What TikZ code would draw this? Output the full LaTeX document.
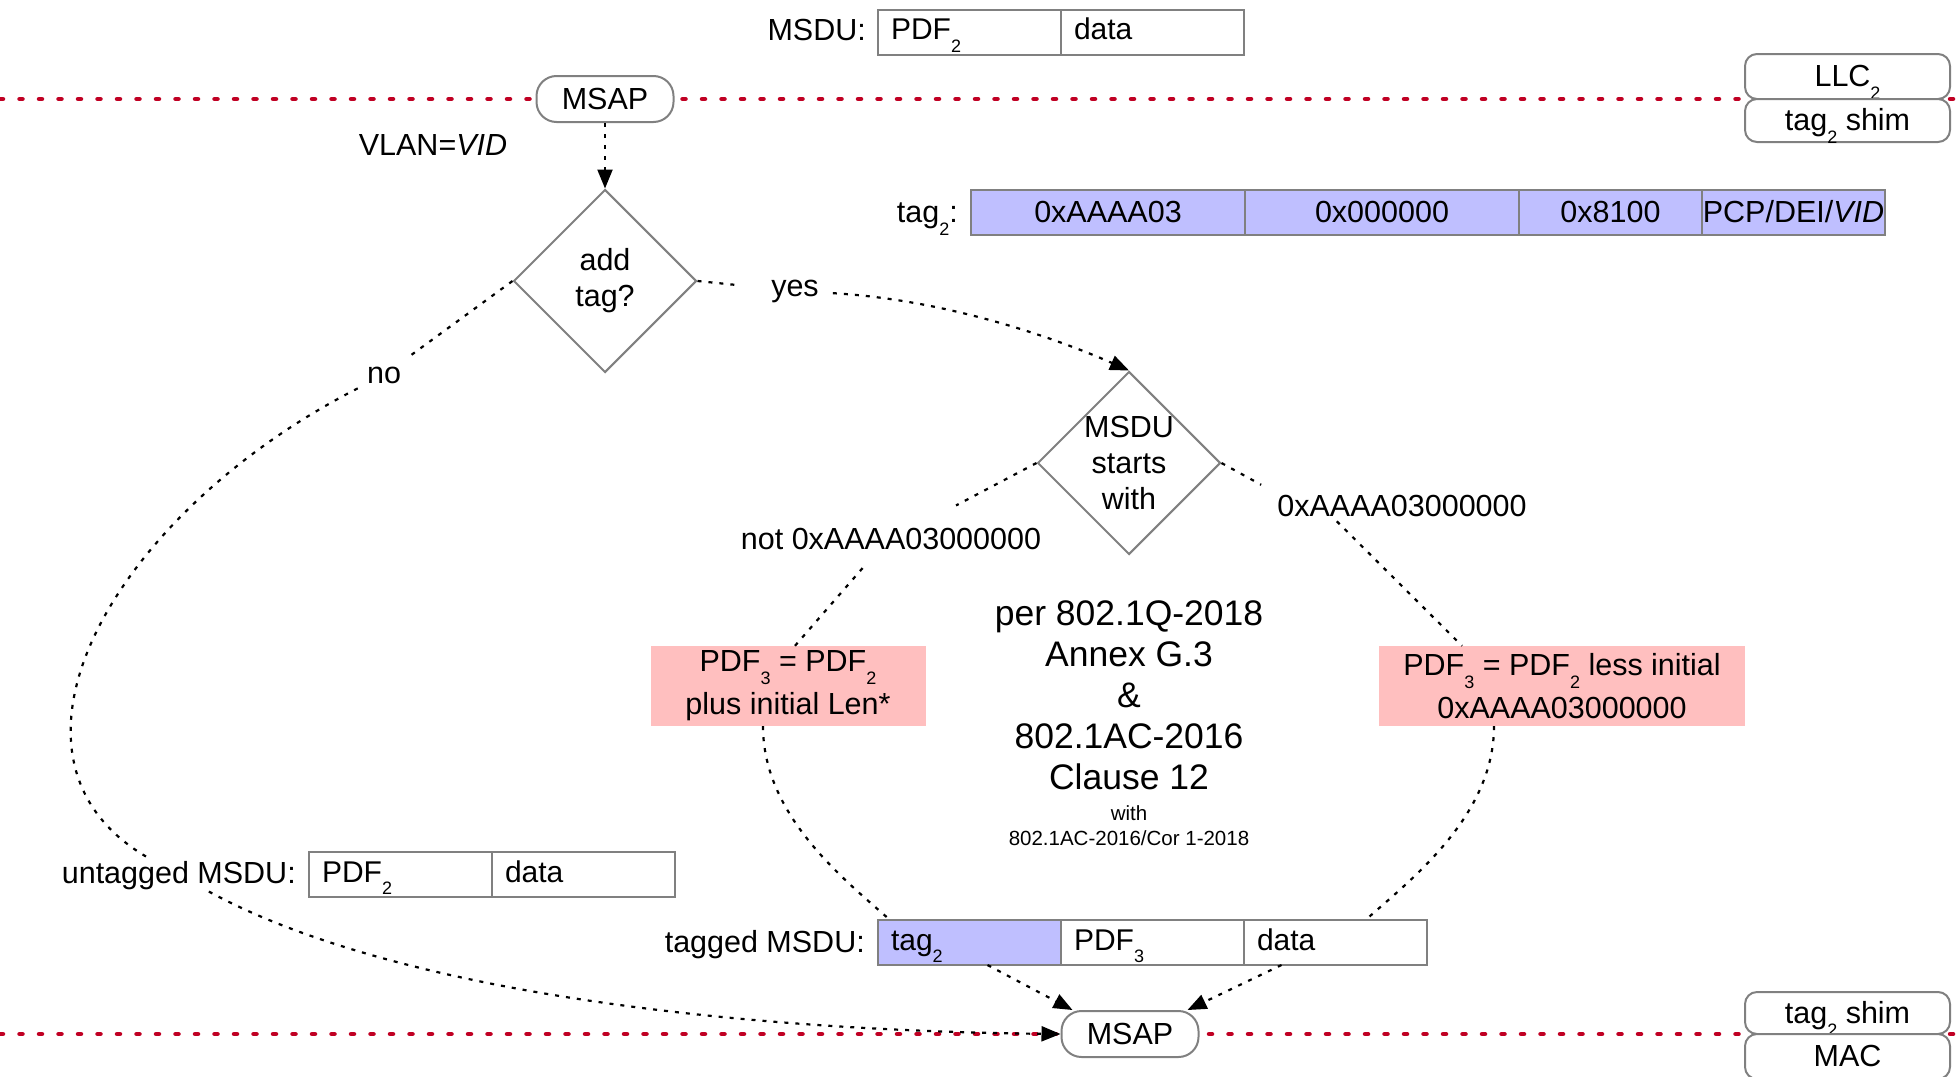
\documentclass[tikz,border=0pt]{standalone}
\usepackage{fontspec}
\setmainfont{Liberation Sans}
\usetikzlibrary{shapes.geometric,arrows.meta,calc}

\definecolor{cellgray}{RGB}{128,128,128}
\definecolor{layerred}{RGB}{192,0,35}
\definecolor{tagblue}{RGB}{191,191,255}
\definecolor{pdfpink}{RGB}{255,191,191}

\newcommand\fsNormal{\fontsize{30.5}{36}\selectfont}
\newcommand\fsCell{\fontsize{30}{36}\selectfont}
\newcommand\fsBig{\fontsize{35.5}{41}\selectfont}
\newcommand\fsSmall{\fontsize{20.5}{25}\selectfont}
\newcommand\lsub[1]{\raisebox{-0.43em}{\fontsize{18}{18}\selectfont #1}}

\begin{document}
\begin{tikzpicture}[x=1pt,y=-1pt,
  txt/.style={font=\fsNormal, inner sep=2pt},
  layer/.style={draw=layerred, line width=4.5pt, line cap=round, dash pattern=on 3pt off 16.5pt},
  cellbox/.style={draw=cellgray, line width=2pt, minimum height=45pt, anchor=west, outer sep=0pt},
  cellL/.style={cellbox, font=\fsCell, text width=157pt, inner xsep=13pt, inner ysep=0pt, align=left, text height=15pt, text depth=0pt},
  cellC/.style={cellbox, font=\fsNormal, fill=tagblue, inner sep=0pt, align=center, text height=20pt, text depth=0pt},
  msap/.style={draw=cellgray, line width=2pt, rounded corners=20pt, fill=white, minimum width=137pt, minimum height=46pt, inner sep=0pt, text height=20pt, text depth=0pt, font=\fsNormal},
  stackbox/.style={draw=cellgray, line width=2pt, rounded corners=12pt, fill=white, minimum width=205pt, inner sep=0pt, text height=20pt, text depth=0pt, font=\fsNormal},
  dia/.style={diamond, aspect=1, draw=cellgray, line width=2pt, minimum width=183pt, minimum height=183pt, inner sep=0pt},
  dtext/.style={font=\fontsize{30.5}{36}\selectfont, align=center, inner sep=0pt},
  pinkbox/.style={fill=pdfpink, draw=none, minimum height=80pt, align=center, inner sep=0pt, font=\fontsize{30.5}{43}\selectfont},
  flow/.style={draw=black, line width=2.2pt, dash pattern=on 4pt off 7pt},
  arr/.style={-{Triangle[length=19pt,width=15pt]}}
]
\useasboundingbox (0,0) rectangle (1959,1076);

% layer boundaries
\coordinate (topL) at (0,99);
\coordinate (topR) at (1959,99);
\coordinate (botL) at (0,1034);
\coordinate (botR) at (1959,1034);
\draw[layer] (topL) -- (topR);
\draw[layer] (botL) -- (botR);

% layer stacks
\node[stackbox, minimum height=45pt] (llc) at (1847.5,76.5) {LLC\lsub{2}};
\node[stackbox, minimum height=43pt] (shimtop) at (1847.5,120.5) {tag\lsub{2} shim};
\node[stackbox, minimum height=42pt] (shimbot) at (1847.5,1013) {tag\lsub{2} shim};
\node[stackbox, minimum height=45pt] (mac) at (1847.5,1056.5) {MAC};

% service access points
\node[msap] (msap1) at (605,99) {MSAP};
\node[msap] (msap2) at (1130,1034) {MSAP};

% top MSDU
\node[txt, anchor=base east] (lblmsdu) at (868,40) {MSDU:};
\node[cellL] (m1) at (878,32) {PDF\lsub{2}};
\node[cellL] (m2) at (m1.east) {data};

\node[txt, anchor=base] (vlan) at (433,155) {VLAN=\textit{VID}};

% tag2 layout
\node[txt, anchor=base east] (lbltag) at (960,222) {tag\lsub{2}:};
\node[cellC, minimum width=274pt] (t1) at (971,212.5) {0xAAAA03};
\node[cellC, minimum width=274pt] (t2) at (t1.east) {0x000000};
\node[cellC, minimum width=183pt] (t3) at (t2.east) {0x8100};
\node[cellC, minimum width=183pt] (t4) at (t3.east) {PCP/DEI/\textit{VID}};

% decisions
\node[dia, label={[dtext]center:add\\tag?}] (addtag) at (605,281) {};
\node[dia, label={[dtext]center:MSDU\\starts\\with}] (d2) at (1129,463) {};

% branch labels
\node[txt, anchor=base] (yes) at (795,296) {yes};
\node[txt, anchor=base] (no) at (384,383) {no};
\node[txt, anchor=base] (notlbl) at (891,549) {not 0xAAAA03000000};
\node[txt, anchor=base] (oxlbl) at (1402,516) {0xAAAA03000000};

% PDF transformations
\node[pinkbox, minimum width=275pt] (pinkL) at (788,686) {PDF\lsub{3} = PDF\lsub{2}\\plus initial Len*};
\node[pinkbox, minimum width=366pt] (pinkR) at (1562,686) {PDF\lsub{3} = PDF\lsub{2} less initial\\0xAAAA03000000};

% reference text
\node[align=center, font=\fsBig, inner sep=0pt] (refs) at (1129,695) {per 802.1Q-2018\\Annex G.3\\\&\\802.1AC-2016\\Clause 12};
\node[align=center, font=\fsSmall, inner sep=0pt] (refwith) at (1129,826) {with\\802.1AC-2016/Cor 1-2018};

% untagged MSDU
\node[txt, anchor=base east] (untag) at (298,883) {untagged MSDU:};
\node[cellL] (u1) at (309,874.5) {PDF\lsub{2}};
\node[cellL] (u2) at (u1.east) {data};

% tagged MSDU
\node[txt, anchor=base east] (taggedlbl) at (867,952) {tagged MSDU:};
\node[cellL, fill=tagblue] (g1) at (878,942.5) {tag\lsub{2}};
\node[cellL] (g2) at (g1.east) {PDF\lsub{3}};
\node[cellL] (g3) at (g2.east) {data};

% connectors
\draw[flow, arr] (msap1) -- (addtag);
\draw[flow, shorten >=34pt] (addtag.east) -- (yes);
\draw[flow, arr, shorten <=12pt] (yes) .. controls (950,300) and (1060,340) .. (d2.north);
\draw[flow, shorten >=10pt] (addtag.west) -- (no);
\draw[flow, shorten <=8pt] (no) .. controls (110,515) and (-25,760) .. (untag);
\draw[flow, arr] (untag) .. controls (380,985) and (700,1030) .. (msap2.west);

\draw[flow, shorten >=43pt] (d2.west) -- ($(notlbl.north)+(27,0)$);
\draw[flow, shorten <=22pt] ($(notlbl.south)+(-14,0)$) -- ($(pinkL.north)+(7,0)$);
\draw[flow, shorten >=16pt] (d2.east) -- (oxlbl.north west);
\draw[flow, shorten <=4pt] ($(oxlbl.south)+(-68,0)$) -- ($(pinkR.north)+(-100,0)$);

\draw[flow] ($(pinkL.south)+(-25,0)$) .. controls +(0,90) and +(-45,-40) .. ($(g1.north west)+(12,0)$);
\draw[flow] ($(pinkR.south)+(-68,0)$) .. controls +(0,90) and +(45,-40) .. ($(g3.north)+(30,0)$);

\draw[flow, arr] ($(g1.south)+(18,0)$) -- ($(msap2.north west)+(12,0)$);
\draw[flow, arr] ($(g3.south)+(-54,0)$) -- ($(msap2.north east)+(-12,0)$);
\end{tikzpicture}
\end{document}
